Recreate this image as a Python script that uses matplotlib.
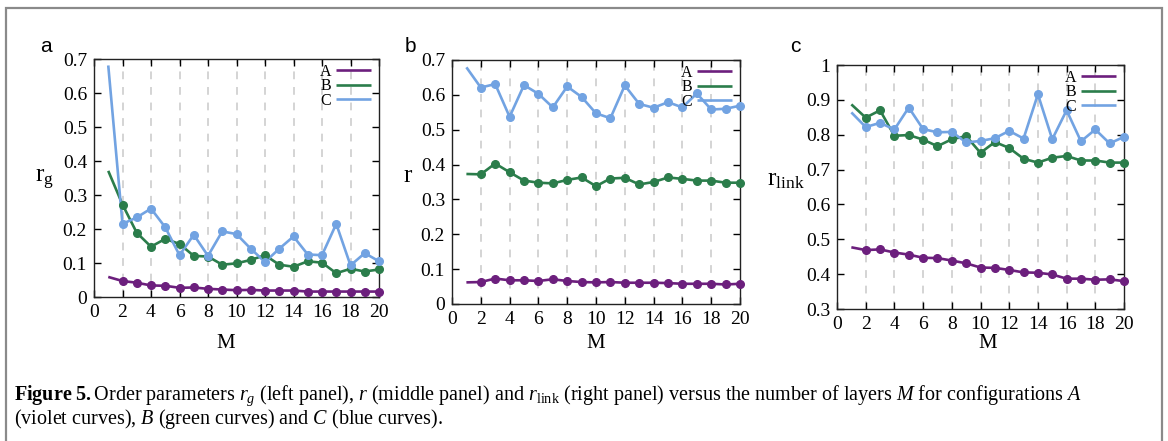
import matplotlib
matplotlib.use("Agg")
import matplotlib.pyplot as plt
from matplotlib.patches import Rectangle

plt.rcParams['mathtext.fontset'] = 'custom'
plt.rcParams['mathtext.rm'] = 'Liberation Serif'
plt.rcParams['mathtext.it'] = 'Liberation Serif:italic'
plt.rcParams['mathtext.bf'] = 'Liberation Serif:bold'
plt.rcParams['font.family'] = ['Liberation Serif', 'DejaVu Serif']

# ---------------- data ----------------
M = list(range(1, 21))

rg_A = [0.059, 0.047, 0.042, 0.034, 0.033, 0.027, 0.028, 0.024, 0.022, 0.020,
        0.021, 0.019, 0.019, 0.019, 0.016, 0.016, 0.016, 0.016, 0.016, 0.016]
rg_B = [0.371, 0.272, 0.189, 0.148, 0.171, 0.156, 0.121, 0.119, 0.095, 0.099,
        0.109, 0.123, 0.095, 0.089, 0.105, 0.101, 0.070, 0.083, 0.075, 0.081]
rg_C = [0.681, 0.215, 0.234, 0.260, 0.205, 0.123, 0.183, 0.121, 0.193, 0.185,
        0.142, 0.103, 0.142, 0.178, 0.125, 0.123, 0.215, 0.093, 0.129, 0.105]

r_A = [0.062, 0.063, 0.073, 0.068, 0.068, 0.066, 0.071, 0.066, 0.063, 0.062,
       0.063, 0.061, 0.061, 0.061, 0.060, 0.058, 0.058, 0.058, 0.056, 0.058]
r_B = [0.373, 0.372, 0.403, 0.378, 0.354, 0.348, 0.346, 0.356, 0.363, 0.338,
       0.360, 0.362, 0.343, 0.350, 0.363, 0.359, 0.354, 0.354, 0.348, 0.348]
r_C = [0.679, 0.621, 0.631, 0.537, 0.628, 0.603, 0.564, 0.624, 0.594, 0.547,
       0.533, 0.627, 0.574, 0.563, 0.579, 0.564, 0.604, 0.558, 0.560, 0.569]

rl_A = [0.477, 0.469, 0.471, 0.462, 0.456, 0.447, 0.446, 0.439, 0.431, 0.419,
        0.418, 0.412, 0.405, 0.404, 0.399, 0.387, 0.387, 0.384, 0.385, 0.380]
rl_B = [0.887, 0.849, 0.870, 0.797, 0.799, 0.786, 0.767, 0.787, 0.796, 0.748,
        0.779, 0.762, 0.731, 0.720, 0.734, 0.739, 0.726, 0.726, 0.720, 0.720]
rl_C = [0.864, 0.822, 0.834, 0.815, 0.878, 0.816, 0.807, 0.808, 0.778, 0.782,
        0.790, 0.811, 0.789, 0.916, 0.787, 0.870, 0.781, 0.815, 0.775, 0.794]

config_labels = ['A', 'B', 'C']
x_ticks = list(range(0, 21, 2))
y_ticks_ab = [0, 0.1, 0.2, 0.3, 0.4, 0.5, 0.6, 0.7]
y_labels_ab = ['0', '0.1', '0.2', '0.3', '0.4', '0.5', '0.6', '0.7']
y_ticks_c = [0.3, 0.4, 0.5, 0.6, 0.7, 0.8, 0.9, 1.0]
y_labels_c = ['0.3', '0.4', '0.5', '0.6', '0.7', '0.8', '0.9', '1']

colors = ['#6c1f7d', '#2b7d4b', '#72a3e2']

# ---------------- figure ----------------
W, H = 1168, 441
fig = plt.figure(figsize=(W / 100, H / 100), dpi=100)
fig.patch.set_facecolor('white')

# outer frame
fig.patches.append(Rectangle((6 / W, -0.1), (1162 - 6) / W, 1.1 - 8 / H,
                             transform=fig.transFigure, fill=False,
                             edgecolor='#8a8a8a', linewidth=1.6))


def ax_at(l, r, t, b):
    return fig.add_axes([l / W, 1 - b / H, (r - l) / W, (b - t) / H])


def fx(px):
    return px / W


def fy(py):
    return 1 - py / H


panels = [
    dict(box=(94, 379, 59, 297), data=(rg_A, rg_B, rg_C), yl=(0, 0.7),
         yt=y_ticks_ab, ytl=y_labels_ab, ylabel=r'$\mathrm{r_g}$',
         ylab_xy=(44, 180), letter='a', letter_xy=(46, 46), m_x=226),
    dict(box=(452, 740, 60, 304), data=(r_A, r_B, r_C), yl=(0, 0.7),
         yt=y_ticks_ab, ytl=y_labels_ab, ylabel=r'$\mathrm{r}$',
         ylab_xy=(408, 176), letter='b', letter_xy=(410, 46), m_x=596),
    dict(box=(837, 1124, 65, 309), data=(rl_A, rl_B, rl_C), yl=(0.3, 1.0),
         yt=y_ticks_c, ytl=y_labels_c, ylabel=r'$\mathrm{r_{link}}$',
         ylab_xy=(786, 180), letter='c', letter_xy=(795, 46), m_x=988),
]

for p in panels:
    ax = ax_at(*p['box'])
    for xv in range(2, 20, 2):
        ax.axvline(xv, color='#d4d4d4', lw=1.4, ls=(0, (4, 4)), zorder=0)
    for series, col, lab in zip(p['data'], colors, config_labels):
        ax.plot(M, series, color=col, lw=1.9, label=lab, zorder=2,
                solid_capstyle='butt')
        ax.plot(M[1:], series[1:], ls='none', marker='o', ms=5.5,
                color=col, zorder=3, clip_on=False)
    ax.set_xlim(0, 20)
    ax.set_ylim(*p['yl'])
    ax.set_xticks(x_ticks)
    ax.set_xticklabels([str(v) for v in x_ticks])
    ax.set_yticks(p['yt'])
    ax.set_yticklabels(p['ytl'])
    ax.tick_params(direction='in', length=5, width=1, top=True, right=True,
                   labelsize=14, pad=5, colors='black')
    for s in ax.spines.values():
        s.set_linewidth(1.0)
        s.set_color('#222222')
    ax.legend(loc='upper right', bbox_to_anchor=(0.99, 1.0),
              markerfirst=False, frameon=False, fontsize=11.5,
              handlelength=2.2, handletextpad=0.3, labelspacing=-0.1,
              borderpad=0.3, borderaxespad=0.0)
    fig.text(fx(p['ylab_xy'][0]), fy(p['ylab_xy'][1]), p['ylabel'],
             ha='center', va='center', fontsize=18)
    fig.text(fx(p['letter_xy'][0]), fy(p['letter_xy'][1]), p['letter'],
             ha='center', va='center', fontsize=15,
             family=['Liberation Sans', 'DejaVu Sans'])
    fig.text(fx(p['m_x']), fy(343), 'M', ha='center', va='center',
             fontsize=15)

cap1 = (r'$\mathbf{Figure\ 5.}$Order parameters $r_g$ (left panel), $r$ (middle panel) '
        r'and $r_{\mathrm{link}}$ (right panel) versus the number of layers $M$ for configurations $A$')
cap2 = r'(violet curves), $B$ (green curves) and $C$ (blue curves).'
fig.text(fx(14), fy(396), cap1, ha='left', va='center', fontsize=14.5)
fig.text(fx(14), fy(419), cap2, ha='left', va='center', fontsize=14.5)

fig.savefig('out.png', dpi=100)
